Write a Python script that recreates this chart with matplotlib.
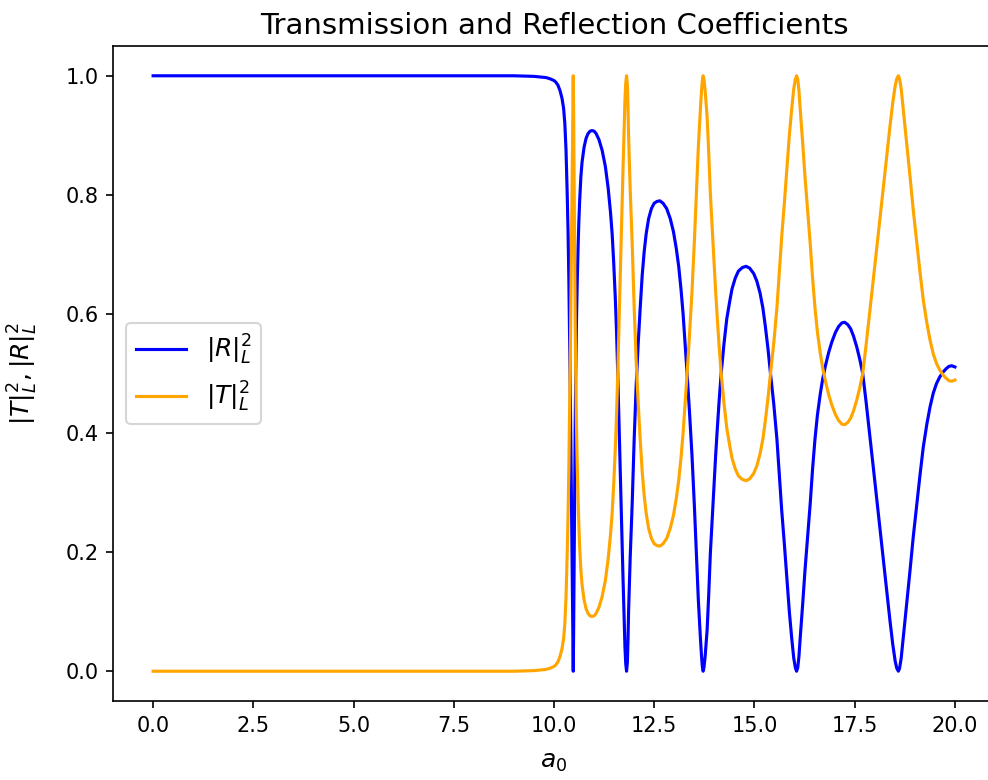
import matplotlib
matplotlib.use("Agg")
import matplotlib.pyplot as plt

# a0 samples along the sweep
a0 = [0.0, 1.0, 2.0, 3.0, 4.0, 5.0, 6.0, 7.0, 8.0, 9.0,
      9.5, 9.8, 9.9, 10.0, 10.05, 10.1, 10.15, 10.2, 10.24, 10.27,
      10.30, 10.33, 10.35, 10.37, 10.39, 10.41, 10.43, 10.45, 10.46, 10.47,
      10.475, 10.48, 10.485, 10.49, 10.50, 10.51, 10.52, 10.53, 10.54, 10.56,
      10.58, 10.60, 10.62, 10.64, 10.67, 10.70, 10.75, 10.80, 10.85, 10.90,
      10.95, 11.00, 11.05, 11.12, 11.20, 11.28, 11.35, 11.41, 11.45, 11.49,
      11.53, 11.56, 11.59, 11.62, 11.65, 11.68, 11.72, 11.75, 11.77, 11.79,
      11.81, 11.83, 11.845, 11.86, 11.90, 11.95, 12.00, 12.05, 12.10, 12.15,
      12.20, 12.25, 12.30, 12.36, 12.43, 12.50, 12.57, 12.64, 12.72, 12.81,
      12.90, 12.98, 13.05, 13.11, 13.17, 13.22, 13.27, 13.32, 13.38, 13.44,
      13.50, 13.55, 13.60, 13.65, 13.68, 13.70, 13.72, 13.74, 13.77, 13.82,
      13.86, 13.90, 13.95, 13.99, 14.03, 14.07, 14.12, 14.17, 14.24, 14.31,
      14.38, 14.44, 14.52, 14.60, 14.70, 14.79, 14.88, 14.98, 15.06, 15.14,
      15.21, 15.27, 15.34, 15.40, 15.48, 15.56, 15.62, 15.68, 15.75, 15.81,
      15.87, 15.93, 15.98, 16.02, 16.05, 16.08, 16.11, 16.14, 16.20, 16.26,
      16.33, 16.39, 16.45, 16.51, 16.57, 16.64, 16.70, 16.77, 16.85, 16.93,
      17.02, 17.10, 17.18, 17.25, 17.33, 17.40, 17.47, 17.55, 17.63, 17.70,
      17.78, 17.88, 17.96, 18.05, 18.13, 18.21, 18.30, 18.38, 18.45, 18.51,
      18.55, 18.59, 18.62, 18.66, 18.71, 18.80, 18.88, 18.96, 19.05, 19.13,
      19.21, 19.30, 19.38, 19.46, 19.54, 19.62, 19.70, 19.78, 19.85, 19.92,
      20.0]

# reflection |R|^2
R = [1.0, 1.0, 1.0, 1.0, 1.0, 1.0, 1.0, 1.0, 1.0, 1.0,
     0.999, 0.997, 0.995, 0.992, 0.989, 0.984, 0.975, 0.962, 0.945, 0.92,
     0.875, 0.80, 0.74, 0.66, 0.56, 0.45, 0.32, 0.18, 0.11, 0.05,
     0.02, 0.0, 0.03, 0.07, 0.15, 0.25, 0.34, 0.42, 0.49, 0.585,
     0.655, 0.71, 0.755, 0.79, 0.83, 0.855, 0.88, 0.895, 0.903, 0.907,
     0.908, 0.907, 0.903, 0.893, 0.875, 0.848, 0.812, 0.77, 0.735, 0.685,
     0.625, 0.57, 0.50, 0.42, 0.337, 0.255, 0.16, 0.085, 0.04, 0.012,
     0.0, 0.015, 0.05, 0.10, 0.19, 0.281, 0.39, 0.48, 0.55, 0.61,
     0.665, 0.705, 0.735, 0.76, 0.777, 0.786, 0.789, 0.79, 0.786, 0.777,
     0.76, 0.738, 0.71, 0.68, 0.64, 0.60, 0.55, 0.50, 0.435, 0.365,
     0.28, 0.198, 0.12, 0.058, 0.025, 0.008, 0.0, 0.006, 0.025, 0.07,
     0.13, 0.198, 0.26, 0.309, 0.36, 0.404, 0.455, 0.50, 0.55, 0.592,
     0.62, 0.642, 0.66, 0.672, 0.678, 0.68, 0.677, 0.668, 0.655, 0.635,
     0.61, 0.58, 0.54, 0.50, 0.45, 0.39, 0.33, 0.27, 0.21, 0.155,
     0.10, 0.055, 0.022, 0.006, 0.0, 0.006, 0.025, 0.055, 0.11, 0.169,
     0.23, 0.281, 0.34, 0.39, 0.43, 0.465, 0.49, 0.513, 0.535, 0.553,
     0.569, 0.579, 0.585, 0.586, 0.582, 0.575, 0.563, 0.545, 0.523, 0.50,
     0.455, 0.393, 0.345, 0.29, 0.24, 0.19, 0.135, 0.085, 0.045, 0.017,
     0.005, 0.0, 0.005, 0.022, 0.055, 0.115, 0.169, 0.225, 0.281, 0.33,
     0.376, 0.415, 0.444, 0.467, 0.483, 0.494, 0.502, 0.508, 0.512, 0.513,
     0.511]

# transmission |T|^2
T = [0.0, 0.0, 0.0, 0.0, 0.0, 0.0, 0.0, 0.0, 0.0, 0.0,
     0.001, 0.003, 0.005, 0.008, 0.011, 0.016, 0.025, 0.038, 0.055, 0.08,
     0.125, 0.20, 0.26, 0.34, 0.44, 0.55, 0.68, 0.82, 0.89, 0.95,
     0.98, 1.0, 0.97, 0.93, 0.85, 0.75, 0.66, 0.58, 0.51, 0.415,
     0.345, 0.29, 0.245, 0.21, 0.17, 0.145, 0.12, 0.105, 0.097, 0.093,
     0.092, 0.093, 0.097, 0.107, 0.125, 0.152, 0.188, 0.23, 0.265, 0.315,
     0.375, 0.43, 0.50, 0.58, 0.663, 0.745, 0.84, 0.915, 0.96, 0.988,
     1.0, 0.985, 0.95, 0.90, 0.81, 0.719, 0.61, 0.52, 0.45, 0.39,
     0.335, 0.295, 0.265, 0.24, 0.223, 0.214, 0.211, 0.21, 0.214, 0.223,
     0.24, 0.262, 0.29, 0.32, 0.36, 0.40, 0.45, 0.50, 0.565, 0.635,
     0.72, 0.802, 0.88, 0.942, 0.975, 0.992, 1.0, 0.994, 0.975, 0.93,
     0.87, 0.802, 0.74, 0.691, 0.64, 0.596, 0.545, 0.50, 0.45, 0.408,
     0.38, 0.358, 0.34, 0.328, 0.322, 0.32, 0.323, 0.332, 0.345, 0.365,
     0.39, 0.42, 0.46, 0.50, 0.55, 0.61, 0.67, 0.73, 0.79, 0.845,
     0.90, 0.945, 0.978, 0.994, 1.0, 0.994, 0.975, 0.945, 0.89, 0.831,
     0.77, 0.719, 0.66, 0.61, 0.57, 0.535, 0.51, 0.487, 0.465, 0.447,
     0.431, 0.421, 0.415, 0.414, 0.418, 0.425, 0.437, 0.455, 0.477, 0.50,
     0.545, 0.607, 0.655, 0.71, 0.76, 0.81, 0.865, 0.915, 0.955, 0.983,
     0.995, 1.0, 0.995, 0.978, 0.945, 0.885, 0.831, 0.775, 0.719, 0.67,
     0.624, 0.585, 0.556, 0.533, 0.517, 0.506, 0.498, 0.492, 0.488, 0.487,
     0.489]

fig = plt.figure(figsize=(988 / 150, 780 / 150), dpi=150)
ax = fig.add_axes([113 / 988, 79 / 780, 882 / 988, 655 / 780])

ax.plot(a0, R, color='blue', label=r'$|R|^2_L$')
ax.plot(a0, T, color='orange', label=r'$|T|^2_L$')

ax.set_xlim(-1, 21)
ax.set_ylim(-0.05, 1.05)
ax.set_xticks([0.0, 2.5, 5.0, 7.5, 10.0, 12.5, 15.0, 17.5, 20.0])
ax.set_xlabel(r'$a_0$', fontsize=12, labelpad=7)
ax.set_ylabel(r'$|T|^2_L, |R|^2_L$', fontsize=12, labelpad=12)
ax.set_title('Transmission and Reflection Coefficients', fontsize=14)
ax.legend(loc='center left', fontsize=12)

fig.savefig('out.png', dpi=150)
